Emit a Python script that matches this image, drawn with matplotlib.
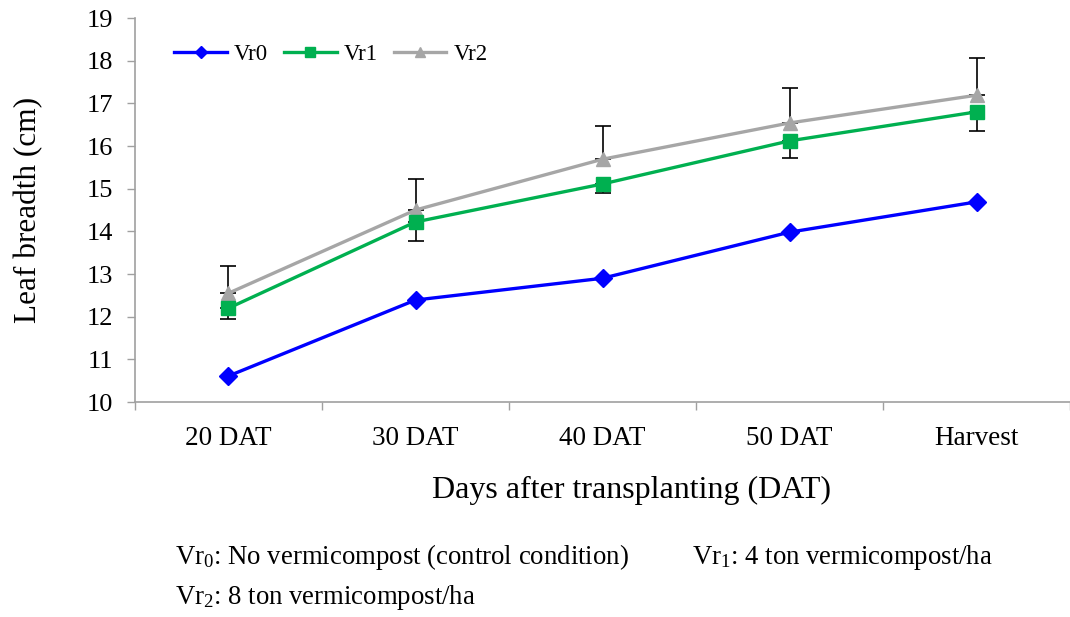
import matplotlib
matplotlib.use("Agg")
import matplotlib.pyplot as plt
import numpy as np

categories = ["20 DAT", "30 DAT", "40 DAT", "50 DAT", "Harvest"]
vr0 = [10.61, 12.39, 12.90, 13.98, 14.69]
vr1 = [12.20, 14.22, 15.11, 16.12, 16.80]
vr2 = [12.55, 14.50, 15.69, 16.54, 17.19]
vr1_err_low = [0.25, 0.45, 0.21, 0.40, 0.45]
vr2_err_up = [0.64, 0.73, 0.78, 0.82, 0.87]
yticks = list(range(10, 20))

plt.rcParams['font.family'] = ['Liberation Serif', 'DejaVu Serif']
plt.rcParams['mathtext.fontset'] = 'custom'
plt.rcParams['mathtext.rm'] = 'Liberation Serif'
plt.rcParams['mathtext.it'] = 'Liberation Serif:italic'
W, H = 1070, 617
fig = plt.figure(figsize=(W/100, H/100), dpi=100)
ax = fig.add_axes([135/W, 1-402/H, (W-135)/W, (402-18)/H])

x = np.arange(len(categories)) + 0.5
ax.errorbar(x, vr2, yerr=[np.zeros(len(vr2)), vr2_err_up], fmt='none',
            ecolor='black', elinewidth=1.2, capsize=6, capthick=1.2, zorder=1)
ax.errorbar(x, vr1, yerr=[vr1_err_low, np.zeros(len(vr1))], fmt='none',
            ecolor='black', elinewidth=1.2, capsize=6, capthick=1.2, zorder=1)
ax.plot(x, vr0, color='#0000FF', lw=2.4, marker='D', ms=9, label='Vr0', zorder=3)
ax.plot(x, vr1, color='#00B050', lw=2.4, marker='s', ms=10.5, label='Vr1', zorder=3)
ax.plot(x, vr2, color='#A6A6A6', lw=2.4, marker='^', ms=10.5, label='Vr2', zorder=2)

ax.set_xlim(0, 5 * (W-135) / 938)
ax.set_ylim(10, 19)
ax.set_yticks(yticks)
ax.set_xticks(x)
ax.set_xticklabels(categories)
ax.set_xticks(np.arange(0, 6), minor=True)
ax.tick_params(axis='x', which='major', length=0, pad=17, labelsize=19.5)
ax.tick_params(axis='x', which='minor', length=6, color='#A0A0A0', width=1)
ax.tick_params(axis='y', length=6, color='#A0A0A0', width=1, labelsize=19, pad=10)
for s in ['top', 'right']:
    ax.spines[s].set_visible(False)
for s in ['left', 'bottom']:
    ax.spines[s].set_color('#A0A0A0')
    ax.spines[s].set_linewidth(1.2)

ax.set_ylabel('Leaf breadth (cm)', fontsize=22.5)
ax.yaxis.set_label_coords((43-135)/(W-135), 0.5)
fig.text(632/W, 1-490/H, 'Days after transplanting (DAT)', fontsize=23,
         ha='center', va='center')

leg = ax.legend(loc='upper left', bbox_to_anchor=(0.02, 0.985), ncol=3,
                frameon=False, fontsize=16.5, handlelength=2.3,
                columnspacing=0.7, handletextpad=0.3, markerscale=0.7)

fig.text(175/W, 1-557/H, r'Vr$_0$: No vermicompost (control condition)', fontsize=19.3,
         ha='left', va='center')
fig.text(692/W, 1-557/H, r'Vr$_1$: 4 ton vermicompost/ha', fontsize=19.3,
         ha='left', va='center')
fig.text(175/W, 1-598/H, r'Vr$_2$: 8 ton vermicompost/ha', fontsize=19.3,
         ha='left', va='center')

fig.savefig('out.png', dpi=100)
